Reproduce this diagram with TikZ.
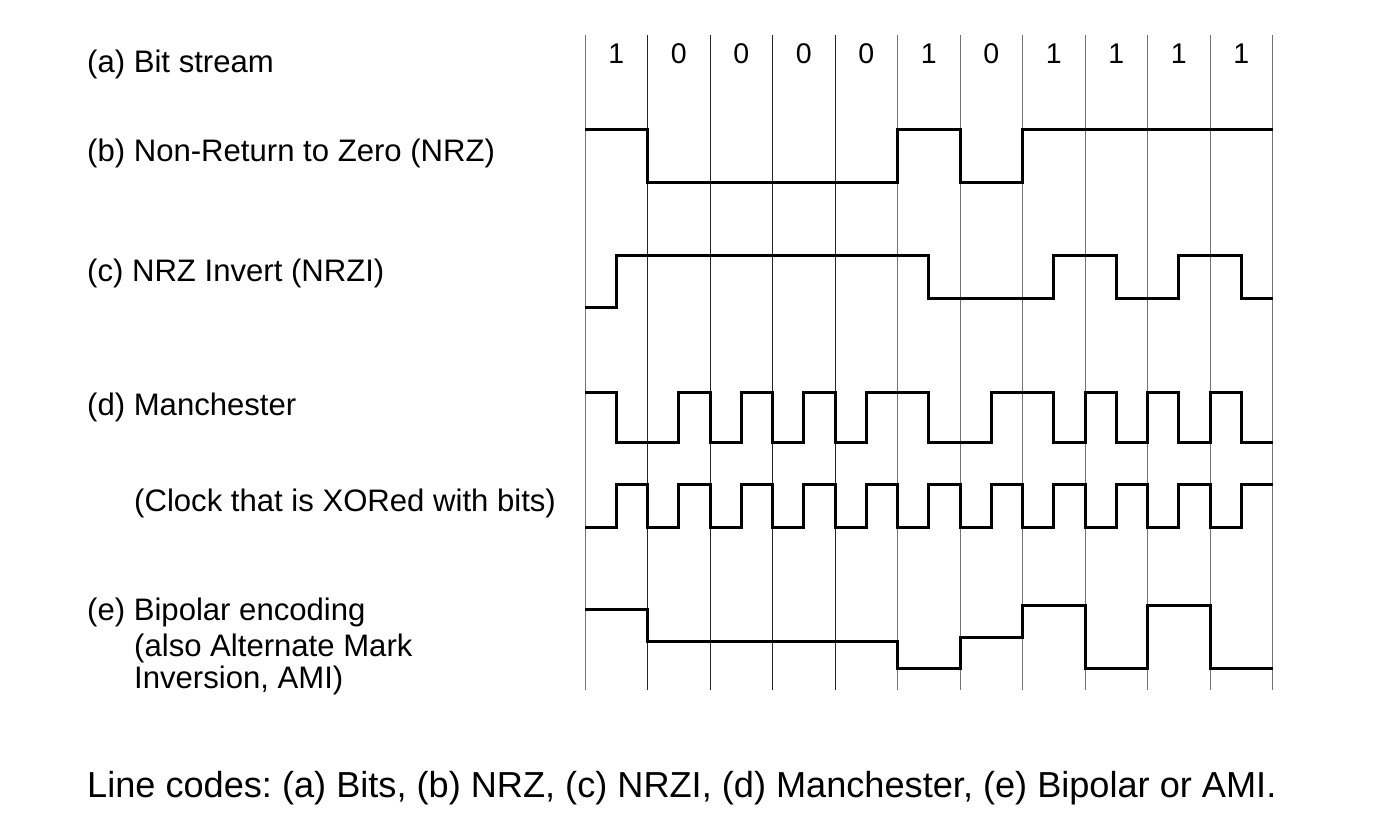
\documentclass[tikz,border=0pt]{standalone}
\usepackage{fontspec}
\setmainfont{Liberation Sans}
\frenchspacing
\begin{document}
\begin{tikzpicture}[x=1pt,y=-1pt,
  lbl/.style={anchor=base west,inner sep=0pt,font=\fontsize{31.1}{36}\selectfont},
  bitlbl/.style={anchor=base,inner sep=0pt,font=\fontsize{28.5}{34}\selectfont},
  captext/.style={anchor=base west,inner sep=0pt,font=\fontsize{36.15}{42}\selectfont},
  gridline/.style={line width=1pt,black!55},
  gridlined/.style={line width=0.9pt,black!85},
  sig/.style={line width=3pt,black,line join=miter}]
\useasboundingbox (0,0) rectangle (1381,828);
\fill[white] (0,0) rectangle (1381,828);
% grid lines
\foreach \i in {0,...,11}{
  \pgfmathsetmacro{\xx}{585+62.5*\i}
  \ifnum\i<5 \ifnum\i>0 \draw[gridlined] (\xx,35) -- (\xx,690); \else \draw[gridline] (\xx,35) -- (\xx,690); \fi
  \else \draw[gridline] (\xx,35) -- (\xx,690); \fi
}
% bits
\foreach \b [count=\i from 0] in {1,0,0,0,0,1,0,1,1,1,1}{
  \node[bitlbl] (bit\i) at ({616.25+62.5*\i},63.3) {\b};
}
% labels
\node[lbl] (la) at (87,72.3) {(a) Bit stream};
\node[lbl] (lb) at (87,161.7) {(b) Non-Return to Zero (NRZ)};
\node[lbl] (lc) at (87,281.7) {(c) NRZ Invert (NRZI)};
\node[lbl] (ld) at (87,415.7) {(d) Manchester};
\node[lbl] (lclk) at (134,511.7) {(Clock that is XORed with bits)};
\node[lbl] (le1) at (87,620) {(e) Bipolar encoding};
\node[lbl] (le2) at (134,656) {(also Alternate Mark};
\node[lbl] (le3) at (134,688.3) {Inversion, AMI)};
\node[captext] (caption) at (87,797.7) {Line codes: (a) Bits, (b) NRZ, (c) NRZI, (d) Manchester, (e) Bipolar or AMI.};
% NRZ
\draw[sig] (585,129) -- (647.5,129) -- (647.5,182) -- (897.5,182) -- (897.5,129) -- (960,129) -- (960,182) -- (1022.5,182) -- (1022.5,129) -- (1272.5,129);
% NRZI
\draw[sig] (585,307) -- (616.25,307) -- (616.25,255) -- (928.75,255) -- (928.75,298) -- (1053.75,298) -- (1053.75,255) -- (1116.25,255) -- (1116.25,298) -- (1178.75,298) -- (1178.75,255) -- (1241.25,255) -- (1241.25,298) -- (1272.5,298);
% Manchester
\draw[sig] (585,392) -- (616.25,392) -- (616.25,442) -- (678.75,442) -- (678.75,392) -- (710,392) -- (710,442) -- (741.25,442) -- (741.25,392) -- (772.5,392) -- (772.5,442) -- (803.75,442) -- (803.75,392) -- (835,392) -- (835,442) -- (866.25,442) -- (866.25,392) -- (928.75,392) -- (928.75,442) -- (991.25,442) -- (991.25,392) -- (1053.75,392) -- (1053.75,442) -- (1085,442) -- (1085,392) -- (1116.25,392) -- (1116.25,442) -- (1147.5,442) -- (1147.5,392) -- (1178.75,392) -- (1178.75,442) -- (1210,442) -- (1210,392) -- (1241.25,392) -- (1241.25,442) -- (1272.5,442);
% Clock
\draw[sig] (585,527) -- (616.25,527) -- (616.25,484) -- (647.5,484) -- (647.5,527) -- (678.75,527) -- (678.75,484) -- (710,484) -- (710,527) -- (741.25,527) -- (741.25,484) -- (772.5,484) -- (772.5,527) -- (803.75,527) -- (803.75,484) -- (835,484) -- (835,527) -- (866.25,527) -- (866.25,484) -- (897.5,484) -- (897.5,527) -- (928.75,527) -- (928.75,484) -- (960,484) -- (960,527) -- (991.25,527) -- (991.25,484) -- (1022.5,484) -- (1022.5,527) -- (1053.75,527) -- (1053.75,484) -- (1085,484) -- (1085,527) -- (1116.25,527) -- (1116.25,484) -- (1147.5,484) -- (1147.5,527) -- (1178.75,527) -- (1178.75,484) -- (1210,484) -- (1210,527) -- (1241.25,527) -- (1241.25,484) -- (1272.5,484);
% Bipolar
\draw[sig] (585,609) -- (647.5,609) -- (647.5,641) -- (897.5,641) -- (897.5,668) -- (960,668) -- (960,637) -- (1022.5,637) -- (1022.5,605) -- (1085,605) -- (1085,668) -- (1147.5,668) -- (1147.5,605) -- (1210,605) -- (1210,668) -- (1272.5,668);
\end{tikzpicture}
\end{document}
